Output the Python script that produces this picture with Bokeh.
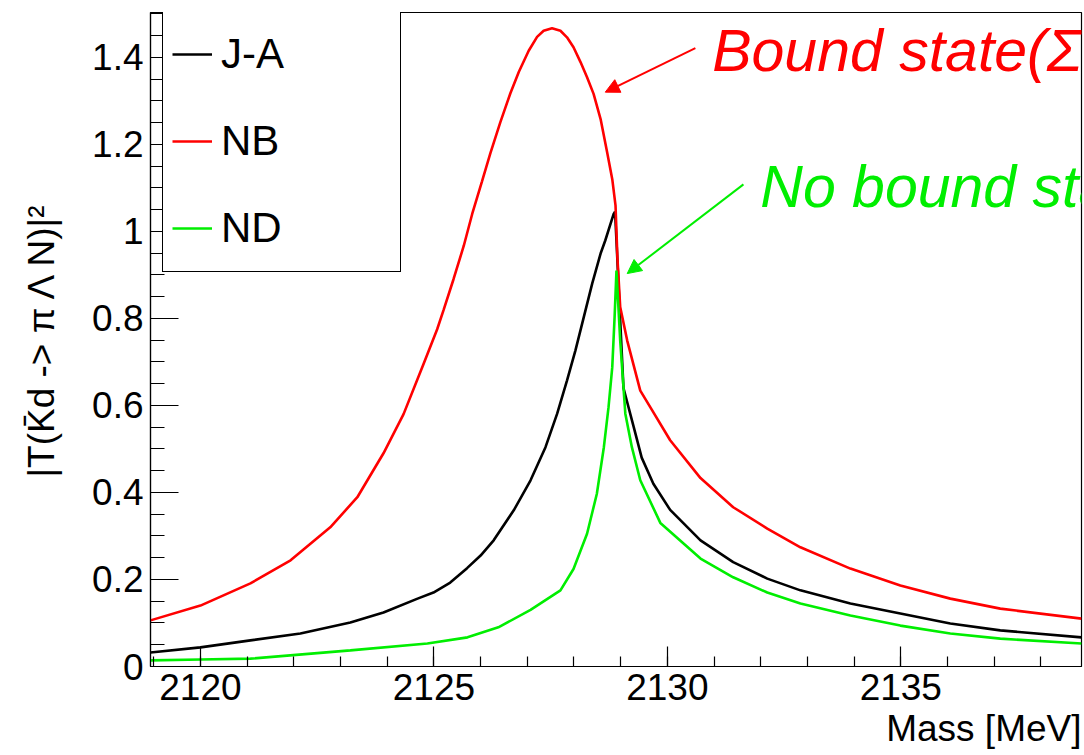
from bokeh.plotting import figure
from bokeh.models import FixedTicker, Range1d, Arrow, NormalHead, Title
from bokeh.core.properties import value
from bokeh.embed import file_html
from bokeh.resources import INLINE

# ---------------- data ----------------
ja_mass = [2118.93, 2120.00, 2121.07, 2122.14, 2123.21, 2123.92, 2124.65, 2124.99,
           2125.35, 2125.71, 2126.00, 2126.28, 2126.71, 2127.07, 2127.39, 2127.64,
           2127.85, 2128.03, 2128.21, 2128.39, 2128.57, 2128.67, 2128.85, 2128.88,
           2128.92, 2128.99, 2129.06, 2129.28, 2129.45, 2129.70, 2130.06, 2130.71,
           2131.41, 2132.14, 2132.85, 2133.92, 2134.99, 2136.06, 2137.13, 2138.87]
ja_val = [0.032, 0.044, 0.060, 0.076, 0.101, 0.124, 0.156, 0.170,
          0.193, 0.226, 0.255, 0.290, 0.359, 0.428, 0.504, 0.581,
          0.657, 0.726, 0.803, 0.880, 0.949, 0.979, 1.040, 1.045,
          0.956, 0.795, 0.640, 0.550, 0.480, 0.420, 0.360, 0.290,
          0.240, 0.202, 0.175, 0.145, 0.122, 0.099, 0.083, 0.067]

nb_mass = [2118.93, 2120.00, 2121.07, 2121.93, 2122.78, 2123.36, 2123.92, 2124.35,
           2124.78, 2125.07, 2125.21, 2125.42, 2125.64, 2125.82, 2126.03, 2126.21,
           2126.42, 2126.64, 2126.82, 2127.03, 2127.21, 2127.35, 2127.53, 2127.71,
           2127.85, 2127.99, 2128.14, 2128.28, 2128.42, 2128.57, 2128.71, 2128.82,
           2128.89, 2128.93, 2128.99, 2129.14, 2129.42, 2129.64, 2130.06, 2130.71,
           2131.41, 2132.14, 2132.85, 2133.92, 2134.99, 2136.06, 2137.13, 2138.87]
nb_val = [0.106, 0.140, 0.191, 0.244, 0.320, 0.389, 0.490, 0.580,
          0.696, 0.775, 0.820, 0.890, 0.967, 1.040, 1.115, 1.180,
          1.250, 1.318, 1.367, 1.415, 1.447, 1.461, 1.467, 1.461,
          1.446, 1.423, 1.389, 1.354, 1.316, 1.258, 1.182, 1.120,
          1.059, 0.940, 0.826, 0.749, 0.634, 0.595, 0.520, 0.433,
          0.366, 0.317, 0.274, 0.225, 0.186, 0.156, 0.133, 0.110]

nd_mass = [2118.93, 2120.00, 2121.07, 2123.21, 2124.86, 2125.72, 2126.38, 2127.07,
           2127.71, 2127.99, 2128.28, 2128.49, 2128.64, 2128.74, 2128.82, 2128.87,
           2128.91, 2128.99, 2129.10, 2129.24, 2129.42, 2129.85, 2130.71, 2131.41,
           2132.14, 2132.85, 2133.92, 2134.99, 2136.06, 2137.13, 2138.87]
nd_val = [0.014, 0.016, 0.018, 0.037, 0.053, 0.067, 0.090, 0.130,
          0.175, 0.224, 0.305, 0.397, 0.504, 0.596, 0.688, 0.803,
          0.910, 0.749, 0.581, 0.504, 0.428, 0.330, 0.248, 0.205,
          0.170, 0.145, 0.117, 0.094, 0.076, 0.064, 0.053]

series_names = ["J-A", "NB", "ND"]
series_colors = ["black", "#ff0000", "#00ee00"]

x_major_ticks = [2120, 2125, 2130, 2135]
x_minor_ticks = [2119, 2120, 2121, 2122, 2123, 2124, 2125, 2126, 2127, 2128, 2129,
                 2130, 2131, 2132, 2133, 2134, 2135, 2136, 2137, 2138]
y_major_ticks = [0, 0.2, 0.4, 0.6, 0.8, 1.0, 1.2, 1.4]
y_tick_labels = ["0", "0.2", "0.4", "0.6", "0.8", "1", "1.2", "1.4"]
y_minor_ticks = [0.05, 0.1, 0.15, 0.25, 0.3, 0.35, 0.45, 0.5, 0.55, 0.65, 0.7, 0.75,
                 0.85, 0.9, 0.95, 1.05, 1.1, 1.15, 1.25, 1.3, 1.35, 1.45, 1.5]

x_title = "Mass [MeV]"
y_title = "|T(K\u0304d -> \u03c0 \u039b N)|\u00b2"
note_bound = "Bound state(\u03a3N)"
note_nobound = "No bound state"

FONT = "Liberation Sans"

# ---------------- figure ----------------
p = figure(width=1084, height=755,
           x_range=Range1d(2118.93, 2138.87), y_range=Range1d(0, 1.503),
           output_backend="svg", toolbar_location=None,
           min_border_left=150, min_border_right=3,
           min_border_top=12, min_border_bottom=89)
p.toolbar.logo = None
p.xgrid.visible = False
p.ygrid.visible = False
p.background_fill_color = "white"
p.border_fill_color = "white"
p.outline_line_color = "black"
p.outline_line_width = 1.2
p.outline_line_alpha = 1

xa = p.xaxis[0]
xa.ticker = FixedTicker(ticks=x_major_ticks, minor_ticks=x_minor_ticks)
xa.major_tick_in = 20
xa.major_tick_out = 0
xa.minor_tick_in = 10
xa.minor_tick_out = 0
xa.axis_line_width = 1.2
xa.major_tick_line_width = 1.2
xa.minor_tick_line_width = 1.2
xa.major_label_text_font = FONT
xa.major_label_text_font_size = "37px"
xa.major_label_text_color = "black"
xa.major_label_standoff = 7

ya = p.yaxis[0]
ya.ticker = FixedTicker(ticks=y_major_ticks, minor_ticks=y_minor_ticks)
ya.major_label_overrides = dict(zip(y_major_ticks, y_tick_labels))
ya.major_tick_in = 28
ya.major_tick_out = 0
ya.minor_tick_in = 14
ya.minor_tick_out = 0
ya.axis_line_width = 1.2
ya.major_tick_line_width = 1.2
ya.minor_tick_line_width = 1.2
ya.major_label_text_font = FONT
ya.major_label_text_font_size = "37px"
ya.major_label_text_color = "black"
ya.major_label_standoff = 7
ya.axis_label = y_title
ya.axis_label_text_font = FONT
ya.axis_label_text_font_size = "37px"
ya.axis_label_text_font_style = "normal"
ya.axis_label_text_color = "black"
ya.axis_label_standoff = 27

# x-axis title, right-aligned under the frame (ROOT style)
p.add_layout(Title(text=x_title, align="right", vertical_align="top",
                   text_font=FONT, text_font_size="37px", text_font_style="normal",
                   text_color="black", standoff=10, offset=0), "below")

# ---------------- curves ----------------
xs = [ja_mass, nb_mass, nd_mass]
ys = [ja_val, nb_val, nd_val]
for name, color, xv, yv in zip(series_names, series_colors, xs, ys):
    p.line(xv, yv, line_color=color, line_width=2.6, legend_label=name)

# ---------------- annotations ----------------
p.text(x=[2130.96], y=[1.414], text=[note_bound], text_color="#ff0000",
       text_font=value(FONT), text_font_style="italic", text_font_size="59px",
       text_baseline="alphabetic", text_align="left")
p.text(x=[2131.99], y=[1.103], text=[note_nobound], text_color="#00ee00",
       text_font=value(FONT), text_font_style="italic", text_font_size="59px",
       text_baseline="alphabetic", text_align="left")

p.add_layout(Arrow(end=NormalHead(size=14, fill_color="#ff0000", line_color="#ff0000", line_width=1),
                   x_start=2130.60, y_start=1.421, x_end=2128.67, y_end=1.320,
                   line_color="#ff0000", line_width=2))
p.add_layout(Arrow(end=NormalHead(size=14, fill_color="#00ee00", line_color="#00ee00", line_width=1),
                   x_start=2131.63, y_start=1.108, x_end=2129.14, y_end=0.903,
                   line_color="#00ee00", line_width=2))

# ---------------- legend ----------------
leg = p.legend[0]
leg.location = (12, 394)
leg.margin = 0
leg.padding = 9
leg.spacing = 19
leg.glyph_width = 40
leg.glyph_height = 68
leg.label_height = 68
leg.label_width = 170
leg.label_standoff = 9
leg.label_text_font = FONT
leg.label_text_font_size = "42px"
leg.label_text_color = "black"
leg.border_line_color = "black"
leg.border_line_width = 1.2
leg.border_line_alpha = 1
leg.background_fill_color = "white"
leg.background_fill_alpha = 1

open("out.html", "w").write(file_html(p, INLINE))
